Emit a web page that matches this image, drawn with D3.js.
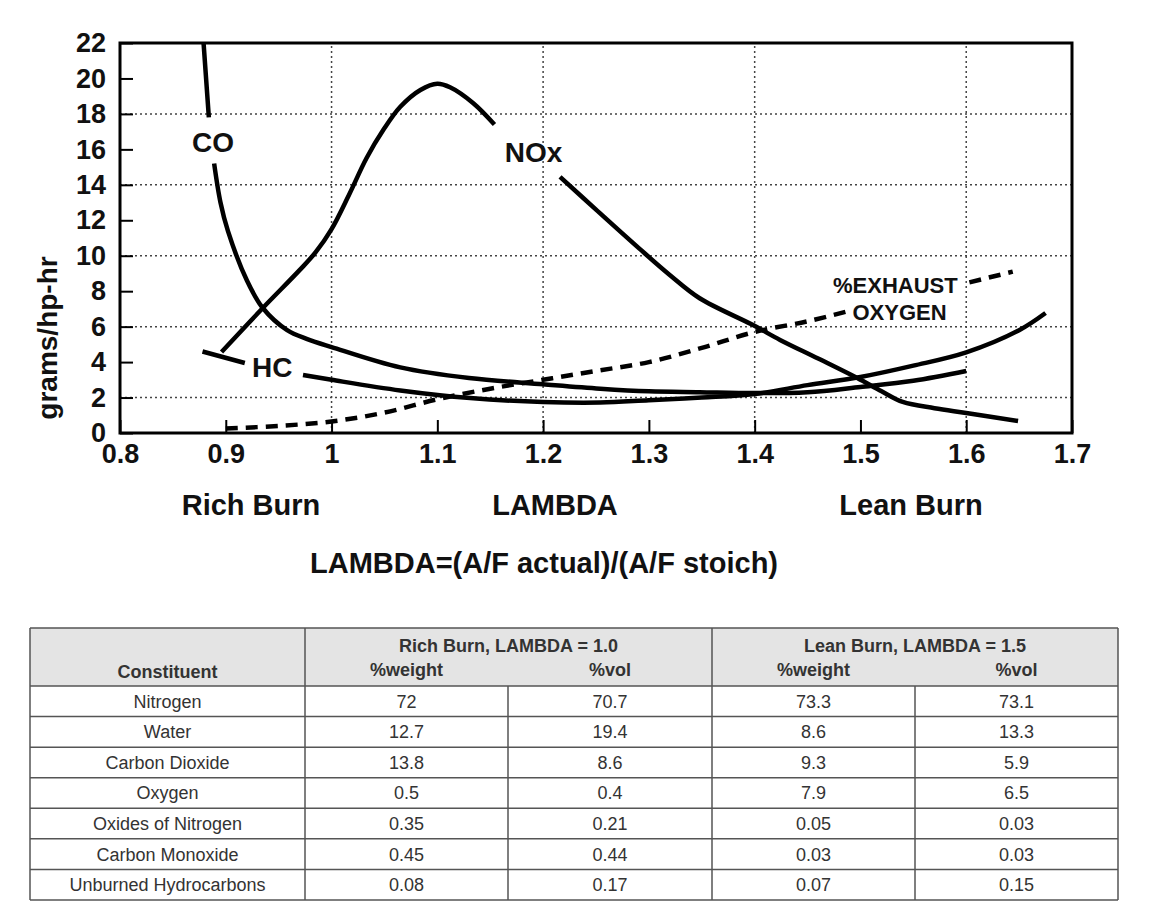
<!DOCTYPE html>
<meta charset="utf-8" />
<html lang="en">
  <head>
    <script src="https://d3js.org/d3.v7.min.js"></script>
    <style>
      body {
        margin: 0;
        background: #fff;
      }
      svg text {
        font-family: Arial, "Liberation Sans", sans-serif;
      }
      .axis text {
        font-size: 27px;
        font-weight: bold;
        fill: #111;
      }
      .axis line {
        stroke: #000;
        stroke-width: 2px;
      }
      .grid line {
        stroke: #444;
        stroke-width: 1.5px;
        stroke-dasharray: 2, 3;
      }
      .curve {
        fill: none;
        stroke: #000;
        stroke-width: 4.5px;
      }
      .lbl {
        font-weight: bold;
        fill: #111;
        text-anchor: middle;
      }
      .tbl text {
        font-size: 18px;
        fill: #333;
        text-anchor: middle;
      }
    </style>
  </head>
  <body>
    <svg width="1163" height="919"></svg>
    <script>
      // lambda values on the x axis, emissions in grams/hp-hr
      var xTicks = [0.8, 0.9, 1, 1.1, 1.2, 1.3, 1.4, 1.5, 1.6, 1.7];
      var yTicks = [0, 2, 4, 6, 8, 10, 12, 14, 16, 18, 20, 22];
      var xGrid = [1, 1.2, 1.4, 1.6];
      var yGrid = [2, 6, 10, 14, 18];

      // null = gap left for the curve label
      var coCurve = [
        [0.879, 22], [0.884, 17.8], null,
        [0.889, 15.2], [0.895, 13.0], [0.902, 11.4], [0.92, 8.6],
        [0.935, 7.05], [0.958, 5.8], [0.977, 5.3], [1.0, 4.85],
        [1.065, 3.7], [1.13, 3.1], [1.2, 2.75], [1.254, 2.5],
        [1.3, 2.35], [1.348, 2.3], [1.4, 2.25], [1.45, 2.3],
        [1.5, 2.6], [1.55, 2.95], [1.6, 3.5]
      ];
      var hcCurve = [
        [0.878, 4.6], [0.918, 3.95], null,
        [0.973, 3.27], [1.0, 3.0], [1.065, 2.4], [1.131, 1.97],
        [1.2, 1.75], [1.254, 1.72], [1.3, 1.85], [1.35, 2.0],
        [1.4, 2.2], [1.45, 2.7], [1.5, 3.16], [1.55, 3.8],
        [1.6, 4.55], [1.65, 5.8], [1.675, 6.77]
      ];
      var noxCurve = [
        [0.896, 4.57], [0.935, 7.05], [0.97, 9.2], [0.985, 10.2],
        [1.0, 11.5], [1.017, 13.5], [1.033, 15.5], [1.049, 17.1],
        [1.065, 18.4], [1.084, 19.35], [1.1, 19.7], [1.112, 19.5],
        [1.134, 18.6], [1.154, 17.4], null,
        [1.216, 14.45], [1.25, 12.6], [1.291, 10.4], [1.32, 8.9],
        [1.348, 7.6], [1.398, 6.1], [1.424, 5.25], [1.46, 4.2],
        [1.497, 3.1], [1.52, 2.35], [1.54, 1.75], [1.57, 1.4],
        [1.6, 1.13], [1.649, 0.68]
      ];
      var o2Curve = [
        [0.9, 0.25], [0.95, 0.4], [1.0, 0.65], [1.05, 1.15],
        [1.1, 1.9], [1.15, 2.5], [1.2, 3.0], [1.25, 3.5],
        [1.3, 4.0], [1.35, 4.8], [1.4, 5.7], [1.45, 6.3],
        [1.49, 6.9], null, [1.603, 8.5], [1.644, 9.1]
      ];

      var curveLabels = [
        { text: "CO", x: 0.888, y: 16.4, size: 28 },
        { text: "HC", x: 0.944, y: 3.72, size: 28 },
        { text: "NOx", x: 1.191, y: 15.85, size: 28 },
        { text: "%EXHAUST", x: 1.533, y: 8.35, size: 22 },
        { text: "OXYGEN", x: 1.537, y: 6.82, size: 22 }
      ];

      // exhaust composition table
      var constituents = [
        "Nitrogen", "Water", "Carbon Dioxide", "Oxygen",
        "Oxides of Nitrogen", "Carbon Monoxide", "Unburned Hydrocarbons"
      ];
      var richWeight = [72, 12.7, 13.8, 0.5, 0.35, 0.45, 0.08];
      var richVol = [70.7, 19.4, 8.6, 0.4, 0.21, 0.44, 0.17];
      var leanWeight = [73.3, 8.6, 9.3, 7.9, 0.05, 0.03, 0.07];
      var leanVol = [73.1, 13.3, 5.9, 6.5, 0.03, 0.03, 0.15];
      var groupHeads = ["Rich Burn, LAMBDA = 1.0", "Lean Burn, LAMBDA = 1.5"];
      var subHeads = ["%weight", "%vol", "%weight", "%vol"];

      var svg = d3.select("svg");

      var x = d3.scaleLinear().domain([0.8, 1.7]).range([120, 1072]);
      var y = d3.scaleLinear().domain([0, 22]).range([433, 43]);

      // dotted grid
      var grid = svg.append("g").attr("class", "grid");
      grid.selectAll(".gx")
        .data(xGrid)
        .enter()
        .append("line")
        .attr("x1", d => x(d))
        .attr("x2", d => x(d))
        .attr("y1", y(0))
        .attr("y2", y(22));
      grid.selectAll(".gy")
        .data(yGrid)
        .enter()
        .append("line")
        .attr("x1", x(0.8))
        .attr("x2", x(1.7))
        .attr("y1", d => y(d))
        .attr("y2", d => y(d));

      // axes, ticks pointing into the plot
      var xAxis = svg.append("g")
        .attr("class", "axis")
        .attr("transform", "translate(0," + y(0) + ")")
        .call(d3.axisBottom(x).tickValues(xTicks).tickSize(-13).tickPadding(11).tickFormat(d3.format("~g")));
      var yAxis = svg.append("g")
        .attr("class", "axis")
        .attr("transform", "translate(" + x(0.8) + ",0)")
        .call(d3.axisLeft(y).tickValues(yTicks).tickSize(-13).tickPadding(14));
      xAxis.select(".domain").remove();
      yAxis.select(".domain").remove();

      // frame
      svg.append("rect")
        .attr("x", x(0.8))
        .attr("y", y(22))
        .attr("width", x(1.7) - x(0.8))
        .attr("height", y(0) - y(22))
        .attr("fill", "none")
        .attr("stroke", "#000")
        .attr("stroke-width", 3);

      var line = d3.line()
        .defined(d => d !== null)
        .x(d => x(d[0]))
        .y(d => y(d[1]))
        .curve(d3.curveCatmullRom.alpha(0.5));

      [coCurve, hcCurve, noxCurve].forEach(function(c) {
        svg.append("path").attr("class", "curve").attr("d", line(c));
      });
      svg.append("path")
        .attr("class", "curve")
        .attr("stroke-dasharray", "12,8")
        .attr("d", line(o2Curve));

      svg.selectAll(".curvelbl")
        .data(curveLabels)
        .enter()
        .append("text")
        .attr("class", "lbl")
        .attr("x", d => x(d.x))
        .attr("y", d => y(d.y))
        .attr("dy", "0.36em")
        .style("font-size", d => d.size + "px")
        .text(d => d.text);

      // axis titles
      svg.append("text")
        .attr("class", "lbl")
        .attr("transform", "translate(57,338) rotate(-90)")
        .style("font-size", "28px")
        .text("grams/hp-hr");

      var under = [
        { text: "Rich Burn", cx: 251 },
        { text: "LAMBDA", cx: 555 },
        { text: "Lean Burn", cx: 911 }
      ];
      svg.selectAll(".under")
        .data(under)
        .enter()
        .append("text")
        .attr("class", "lbl")
        .attr("x", d => d.cx)
        .attr("y", 515)
        .style("font-size", "29px")
        .text(d => d.text);
      svg.append("text")
        .attr("class", "lbl")
        .attr("x", 544)
        .attr("y", 573)
        .style("font-size", "29px")
        .text("LAMBDA=(A/F actual)/(A/F stoich)");

      // table
      var cols = [30, 305, 508, 712, 915, 1118];
      var tTop = 628,
        hBottom = 686,
        tBottom = 900;
      var row = d3.scaleBand().domain(constituents).range([hBottom, tBottom]);
      var tbl = svg.append("g").attr("class", "tbl");

      tbl.append("rect")
        .attr("x", cols[0])
        .attr("y", tTop)
        .attr("width", cols[5] - cols[0])
        .attr("height", hBottom - tTop)
        .attr("fill", "#e4e4e4");

      var rows = constituents.map(function(c, i) {
        return [c, richWeight[i], richVol[i], leanWeight[i], leanVol[i]];
      });

      var tr = tbl.selectAll(".row")
        .data(rows)
        .enter()
        .append("g")
        .attr("transform", d => "translate(0," + row(d[0]) + ")");
      tr.selectAll("text")
        .data(d => d)
        .enter()
        .append("text")
        .attr("x", (d, i) => (cols[i] + cols[i + 1]) / 2)
        .attr("y", row.bandwidth() / 2)
        .attr("dy", "0.36em")
        .text(d => d);

      // header text
      tbl.append("text")
        .attr("x", (cols[0] + cols[1]) / 2)
        .attr("y", 672)
        .attr("dy", "0.36em")
        .style("font-weight", "bold")
        .text("Constituent");
      tbl.selectAll(".gh")
        .data(groupHeads)
        .enter()
        .append("text")
        .attr("x", (d, i) => (cols[1 + i * 2] + cols[3 + i * 2]) / 2)
        .attr("y", 646)
        .attr("dy", "0.36em")
        .style("font-weight", "bold")
        .text(d => d);
      tbl.selectAll(".sh")
        .data(subHeads)
        .enter()
        .append("text")
        .attr("x", (d, i) => (cols[1 + i] + cols[2 + i]) / 2)
        .attr("y", 670)
        .attr("dy", "0.36em")
        .style("font-weight", "bold")
        .text(d => d);

      // grid lines of the table
      var stroke = "#555";
      tbl.selectAll(".hl")
        .data([tTop, hBottom].concat(constituents.map(c => row(c) + row.bandwidth())))
        .enter()
        .append("line")
        .attr("x1", cols[0])
        .attr("x2", cols[5])
        .attr("y1", d => d)
        .attr("y2", d => d)
        .attr("stroke", stroke)
        .attr("stroke-width", 1.5);
      tbl.selectAll(".vl")
        .data(cols)
        .enter()
        .append("line")
        .attr("x1", d => d)
        .attr("x2", d => d)
        .attr("y1", (d, i) => (i === 2 || i === 4 ? hBottom : tTop))
        .attr("y2", tBottom)
        .attr("stroke", stroke)
        .attr("stroke-width", 1.5);
    </script>
  </body>
</html>
